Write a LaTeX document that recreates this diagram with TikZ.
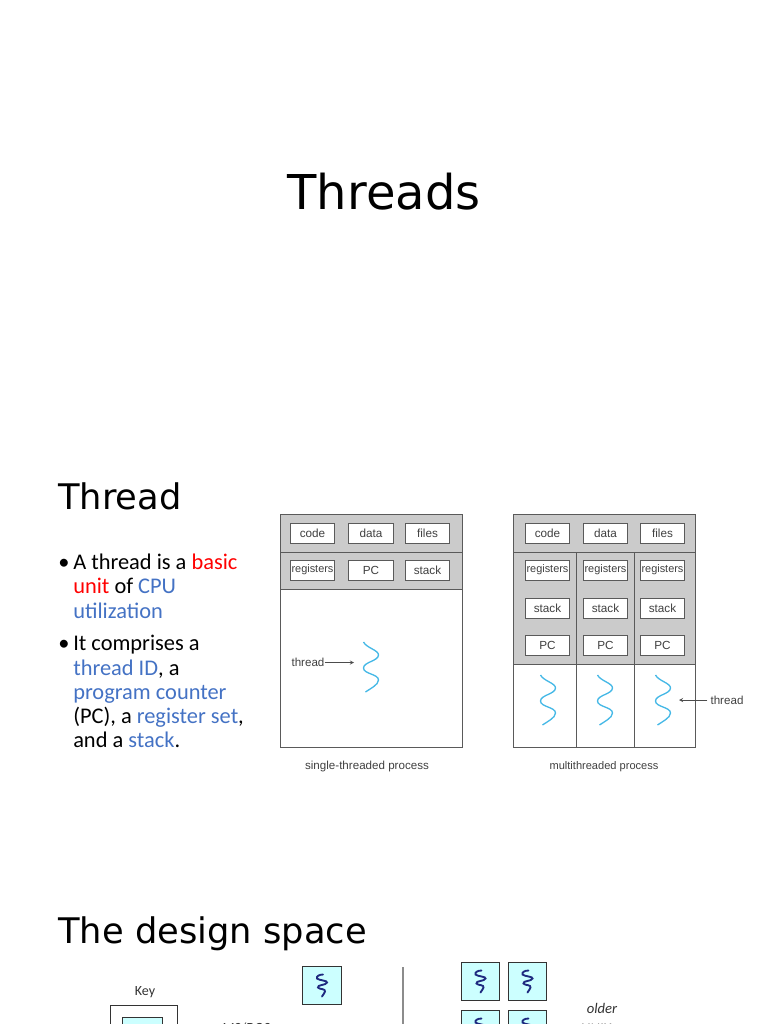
\documentclass[tikz,border=0pt]{standalone}
\usepackage{fontspec}
\setmainfont{Carlito}
\newfontfamily\slidefont{DejaVu Sans}
\newfontfamily\figfont{Liberation Sans}
\definecolor{keyblue}{HTML}{4472C4}
\definecolor{panelgray}{HTML}{CBCBCB}
\definecolor{framegray}{HTML}{5A5A5A}
\definecolor{wavecyan}{HTML}{45B8E6}
\definecolor{cellcyan}{HTML}{CCFFFF}
\definecolor{wavenavy}{HTML}{1F2A80}
\tikzset{
  heading/.style={anchor=base west,inner sep=0pt,font=\slidefont\fontsize{26.45}{30}\selectfont},
  bodytext/.style={anchor=base west,inner sep=0pt,align=left,font=\fontsize{16.8}{18.4}\selectfont},
  regbox/.style={draw=framegray,fill=white,line width=0.7pt,minimum width=33.5pt,minimum height=15pt,inner sep=0pt,font=\figfont\fontsize{8.8}{10}\selectfont,text=black!75},
  regsmall/.style={regbox,font=\figfont\fontsize{8.2}{10}\selectfont},
  figlabel/.style={anchor=base,inner sep=0pt,font=\figfont\fontsize{8.7}{10}\selectfont,text=black!75},
  cell/.style={draw=black!80,fill=cellcyan,line width=0.8pt,minimum size=29pt,inner sep=0pt},
  keylabel/.style={anchor=base,inner sep=0pt,font=\fontsize{10.5}{12}\selectfont,text=black!80},
  panel/.style={draw=framegray,fill=panelgray,line width=0.55pt},
  frame/.style={draw=framegray,line width=0.55pt},
  pics/wave/.style={code={
    \draw[wavecyan,line width=1pt] (0,0) .. controls (3,6) and (15,8) .. (15,13)
      .. controls (15,19) and (0,20) .. (0,26) .. controls (0,32) and (15,32) .. (15,38)
      .. controls (15,43) and (6,47) .. (2,50);
  }},
  pics/microthread/.style={code={
    \draw[wavenavy,line width=1.4pt,line cap=round] (1,-11) .. controls (-3,-11) and (-6,-9) .. (-5,-7)
      .. controls (-3,-5) and (6,-5) .. (5,-3) .. controls (4,0) and (-5,-1) .. (-4,2)
      .. controls (-3,4) and (4,3) .. (3,6) .. controls (2.5,8) and (1,9) .. (0,11);
  }}
}
\begin{document}
\begin{tikzpicture}[x=0.75pt,y=-0.75pt]
\useasboundingbox (0,0) rectangle (768,1024);
\clip (0,0) rectangle (768,1024);

% slide titles
\node[anchor=base,inner sep=0pt,font=\slidefont\fontsize{36}{40}\selectfont] (title) at (384,209) {Threads};
\node[heading] (threadhead) at (58,509) {Thread};
\node[heading] (designhead) at (58,943) {The design space};

% bullets
\node[bodytext] (bulleta) at (58,569) {•};
\node[bodytext] (linea) at (73,569) {A thread is a \textcolor{red}{basic}};
\node[bodytext] (lineb) at (73,593.5) {\textcolor{red}{unit} of \textcolor{keyblue}{CPU}};
\node[bodytext] (linec) at (73,618) {\textcolor{keyblue}{utilization}};
\node[bodytext] (bulletb) at (58,650) {•};
\node[bodytext] (lined) at (73,650) {It comprises a};
\node[bodytext] (linee) at (73,675) {\textcolor{keyblue}{thread ID}, a};
\node[bodytext] (linef) at (73,699) {\textcolor{keyblue}{program counter}};
\node[bodytext] (lineg) at (73,723) {(PC), a \textcolor{keyblue}{register set},};
\node[bodytext] (lineh) at (73,747) {and a \textcolor{keyblue}{stack}.};

% single-threaded process
\draw[panel] (280,514) rectangle (462,552);
\draw[panel] (280,552) rectangle (462,589);
\draw[frame] (280,589) rectangle (462,747);
\node[regbox] (scode) at (312.5,533) {code};
\node[regbox] (sdata) at (371,533) {data};
\node[regbox] (sfiles) at (427.5,533) {files};
\node[regsmall] (sregs) at (312.5,570) {registers};
\node[regbox] (spc) at (371,570) {PC};
\node[regbox] (sstack) at (427.5,570) {stack};
\pic at (363.5,642) {wave};
\node[figlabel] (sthread) at (308,666) {thread};
\coordinate (swave) at (354,662.5);
\draw[-stealth,draw=black!70,line width=0.4pt] (sthread.east |- swave) -- (swave);
\node[figlabel] (scaption) at (367,769) {single-threaded process};

% multithreaded process
\draw[panel] (513,514) rectangle (695,552);
\draw[panel] (513,552) rectangle (695,664);
\draw[frame] (513,664) rectangle (695,747);
\draw[frame] (576,552) -- (576,747);
\draw[frame] (634,552) -- (634,747);
\node[regbox] (mcode) at (547.5,533) {code};
\node[regbox] (mdata) at (605.5,533) {data};
\node[regbox] (mfiles) at (662.5,533) {files};
\node[regsmall] (mregsa) at (547.5,570) {registers};
\node[regsmall] (mregsb) at (605.5,570) {registers};
\node[regsmall] (mregsc) at (662.5,570) {registers};
\node[regbox] (mstacka) at (547.5,608) {stack};
\node[regbox] (mstackb) at (605.5,608) {stack};
\node[regbox] (mstackc) at (662.5,608) {stack};
\node[regbox] (mpca) at (547.5,645) {PC};
\node[regbox] (mpcb) at (605.5,645) {PC};
\node[regbox] (mpcc) at (662.5,645) {PC};
\pic at (540.5,675) {wave};
\pic at (597.5,675) {wave};
\pic at (655.5,675) {wave};
\node[figlabel] (mthread) at (727,704) {thread};
\coordinate (mwave) at (679,700);
\draw[-stealth,draw=black!70,line width=0.4pt] (mthread.west |- mwave) ++(-3,0) -- (mwave);
\node[figlabel,font=\figfont\fontsize{8.3}{10}\selectfont] (mcaption) at (604,769) {multithreaded process};

% design space, cut off by the page
\node[keylabel] (keytext) at (145,995) {Key};
\node[draw=black!80,line width=0.7pt,minimum width=50.25pt,minimum height=60pt,anchor=north west,inner sep=0pt] (keybox) at (110,1005) {};
\node[draw=black!80,fill=cellcyan,line width=0.7pt,minimum width=30pt,minimum height=30pt,anchor=north west,inner sep=0pt] (keycell) at (122,1017) {};
\node[keylabel,font=\itshape\fontsize{10.5}{12}\selectfont] (msdos) at (246,1032) {MS/DOS};
\node[cell] (dosproc) at (322,985.5) {};
\pic at (dosproc.center) {microthread};
\draw[draw=black!45,line width=1pt] (403,967) -- (403,1024);
\node[cell] (unixa) at (480.5,981.5) {};
\node[cell] (unixb) at (527.5,981.5) {};
\node[cell] (unixc) at (480.5,1029.5) {};
\node[cell] (unixd) at (527.5,1029.5) {};
\pic at (unixa.center) {microthread};
\pic at (unixb.center) {microthread};
\pic at (unixc.center) {microthread};
\pic at (unixd.center) {microthread};
\node[keylabel,font=\itshape\fontsize{11}{12}\selectfont] (older) at (602,1013) {older};
\node[keylabel,font=\itshape\fontsize{11}{12}\selectfont] (unixes) at (602,1033) {UNIXes};
\end{tikzpicture}
\end{document}
